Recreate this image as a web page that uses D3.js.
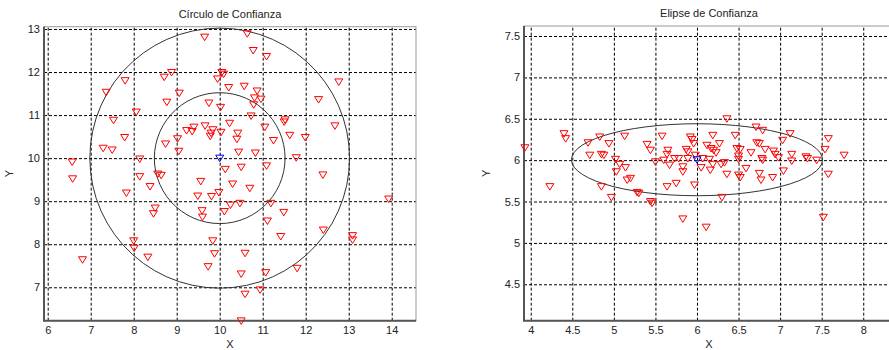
<!DOCTYPE html>
<html>
<head>
<meta charset="utf-8">
<script src="https://cdn.jsdelivr.net/npm/d3@7"></script>
<style>
  body { margin: 0; background: #fff; }
  text { font-family: "Liberation Sans", Arial, sans-serif; }
  .grid line { stroke: #000; stroke-dasharray: 3,2; stroke-width: 1; }
  .grid text { font-size: 11px; fill: #222; }
</style>
</head>
<body>
<div id="chart"></div>
<script>
// left panel: points around the circle centre
const circX = [9.65,10.64,10.78,11.09,8.88,8.71,7.80,7.36,9.06,10.05,10.09,9.95,10.21,10.57,10.87,10.81,10.96,10.79,9.75,10.02,
  8.77,8.06,7.53,10.73,10.23,11.52,11.50,11.05,12.30,12.77,12.68,11.63,11.99,11.25,10.83,10.44,10.40,10.42,10.03,9.84,
  9.80,9.78,9.66,9.40,9.36,9.23,9.02,8.74,9.05,7.79,7.29,7.50,8.14,6.57,11.78,
  6.58,8.14,8.56,8.64,8.38,7.83,9.56,10.13,10.50,11.09,12.40,10.30,10.70,9.49,9.81,9.98,10.25,10.47,10.11,9.59,
  9.60,8.50,8.46,11.19,11.49,11.11,13.93,12.41,13.09,13.09,11.42,8.00,8.01,9.84,9.88,10.59,8.33,6.81,9.73,10.50,
  11.07,11.80,10.94,10.59,10.50];
const circY = [12.81,12.89,12.50,12.36,11.99,11.88,11.80,11.53,11.51,11.99,11.95,11.84,11.64,11.67,11.56,11.40,11.37,11.24,11.28,11.18,
  11.30,11.07,10.88,10.98,10.81,10.89,10.84,10.72,11.36,11.77,10.75,10.53,10.48,10.41,10.12,10.14,10.44,10.58,10.60,10.66,
  10.58,10.51,10.75,10.72,10.62,10.64,10.45,10.33,10.16,10.48,10.23,10.19,9.98,9.91,10.01,
  9.52,9.57,9.63,9.60,9.34,9.19,9.46,9.74,9.79,9.82,9.61,9.40,9.30,9.12,9.11,9.20,8.91,8.95,8.76,8.78,
  8.63,8.84,8.71,8.95,8.74,8.54,9.05,8.33,8.20,8.10,8.18,8.08,7.91,8.08,7.78,7.79,7.70,7.64,7.48,7.31,
  7.34,7.44,6.94,6.84,6.22];
const circCenter = [10, 10];
const circRadii = [1.52, 3.02];

// right panel: points around the ellipse centre
const elipX = [4.40,4.42,3.93,4.23,4.69,4.83,4.94,4.71,4.85,4.88,5.13,5.02,5.07,5.14,5.03,5.20,5.16,4.85,4.97,5.28,
  5.30,5.44,5.46,5.40,5.44,5.58,5.50,5.60,5.65,5.64,5.67,5.73,5.78,5.83,5.83,5.64,5.75,5.83,5.97,5.92,
  5.94,5.96,5.87,5.89,5.98,5.89,
  6.36,6.71,6.79,7.12,7.58,7.54,7.77,6.19,6.46,7.03,6.72,6.75,6.82,6.27,6.12,6.17,6.20,6.23,6.48,6.52,
  6.65,6.50,6.50,6.78,6.79,6.92,6.94,6.98,7.14,7.14,7.31,7.33,7.44,
  6.07,6.15,6.33,6.29,6.05,6.16,6.19,6.36,6.50,6.52,6.59,6.75,6.77,6.91,7.04,7.58,
  6.30,7.52,6.11];
const elipY = [6.32,6.26,6.15,5.68,6.21,6.28,6.20,6.06,6.07,6.06,6.29,6.01,5.95,5.91,5.86,5.78,5.76,5.68,5.55,5.61,
  5.60,5.50,5.48,6.19,6.12,6.29,5.98,6.00,6.12,6.07,5.94,6.02,6.02,5.92,5.86,5.68,5.72,5.29,5.70,6.28,
  6.25,6.20,6.13,6.10,6.06,6.02,
  6.50,6.40,6.36,6.32,6.26,6.13,6.06,6.30,6.30,6.24,6.21,6.20,6.13,6.20,6.18,6.14,6.12,6.09,6.14,6.13,
  6.09,6.05,6.01,6.02,6.00,6.11,6.07,6.03,6.07,5.99,6.04,6.02,6.00,
  6.02,6.01,5.97,5.95,5.91,5.88,5.95,5.83,5.82,5.79,5.90,5.84,5.76,5.79,5.87,5.83,
  5.55,5.31,5.19];
const elipCenter = [6.0, 6.005];
const elipAxes = [1.51, 0.435];

// tick labels
const circXTicks = ['6','7','8','9','10','11','12','13','14'];
const circYTicks = ['7','8','9','10','11','12','13'];
const elipXTicks = ['4','4.5','5','5.5','6','6.5','7','7.5','8'];
const elipYTicks = ['4.5','5','5.5','6','6.5','7','7.5'];

const svg = d3.select('#chart').append('svg')
  .attr('width', 889)
  .attr('height', 350);

const tri = 'M-4,-3L4,-3L0,3.5Z';

function drawPanel(p) {
  const w = p.right - p.left, h = p.bottom - p.top;
  const x = d3.scaleLinear().domain(p.xDomain).range([0, w]);
  const y = d3.scaleLinear().domain(p.yDomain).range([h, 0]);

  const g = svg.append('g').attr('transform', `translate(${p.left},${p.top})`);

  g.append('clipPath').attr('id', p.id)
    .append('rect').attr('width', w).attr('height', h);

  // grid + tick labels
  g.append('g')
    .attr('class', 'grid')
    .attr('transform', `translate(0,${h})`)
    .call(d3.axisBottom(x).tickValues(p.xTicks.map(Number)).tickFormat((d, i) => p.xTicks[i])
      .tickSizeInner(-h).tickSizeOuter(0).tickPadding(6))
    .call(a => a.select('.domain').remove());

  g.append('g')
    .attr('class', 'grid')
    .call(d3.axisLeft(y).tickValues(p.yTicks.map(Number)).tickFormat((d, i) => p.yTicks[i])
      .tickSizeInner(-w).tickSizeOuter(0).tickPadding(4))
    .call(a => a.select('.domain').remove());

  // confidence shapes (clipped), markers are not clipped like matlab
  const line = d3.line().x(d => x(d[0])).y(d => y(d[1]));
  const shapes = g.append('g').attr('clip-path', `url(#${p.id})`);
  p.shapes.forEach(s => {
    const pts = d3.range(0, 361, 6).map(a => {
      const t = a * Math.PI / 180;
      return [s.cx + s.rx * Math.cos(t), s.cy + s.ry * Math.sin(t)];
    });
    shapes.append('path')
      .attr('d', line(pts))
      .attr('fill', 'none')
      .attr('stroke', '#333')
      .attr('stroke-width', 1);
  });

  // box
  g.append('rect')
    .attr('width', w).attr('height', h)
    .attr('fill', 'none').attr('stroke', '#999').attr('stroke-width', 1);
  g.append('path')
    .attr('d', `M0,0V${h}H${w}`)
    .attr('fill', 'none').attr('stroke', '#555').attr('stroke-width', 2);

  g.selectAll('.pt')
    .data(p.xs.map((v, i) => [v, p.ys[i]]))
    .enter().append('path')
    .attr('class', 'pt')
    .attr('d', tri)
    .attr('transform', d => `translate(${x(d[0])},${y(d[1])})`)
    .attr('fill', 'none')
    .attr('stroke', '#f00')
    .attr('stroke-width', 1);

  g.append('path')
    .attr('d', tri)
    .attr('transform', `translate(${x(p.center[0])},${y(p.center[1])})`)
    .attr('fill', 'none')
    .attr('stroke', '#00f')
    .attr('stroke-width', 1);

  g.append('text')
    .attr('x', w / 2).attr('y', -9)
    .attr('text-anchor', 'middle')
    .attr('font-size', 11).attr('fill', '#222')
    .text(p.title);

  g.append('text')
    .attr('x', w / 2).attr('y', h + 27)
    .attr('text-anchor', 'middle')
    .attr('font-size', 11).attr('fill', '#222')
    .text('X');

  g.append('text')
    .attr('transform', `translate(${p.yLabelX},${h / 2})rotate(-90)`)
    .attr('text-anchor', 'middle')
    .attr('font-size', 11).attr('fill', '#222')
    .text('Y');
}

drawPanel({
  id: 'clipA', left: 44, top: 26.7, right: 416, bottom: 320.7,
  xDomain: [5.914, 14.565], yDomain: [6.224, 13.053],
  xTicks: circXTicks, yTicks: circYTicks,
  title: 'Círculo de Confianza',
  xs: circX, ys: circY, center: circCenter,
  shapes: circRadii.map(r => ({cx: circCenter[0], cy: circCenter[1], rx: r, ry: r})),
  yLabelX: -31
});

drawPanel({
  id: 'clipB', left: 524, top: 26, right: 894, bottom: 320.7,
  xDomain: [3.919, 8.37], yDomain: [4.06, 7.621],
  xTicks: elipXTicks, yTicks: elipYTicks,
  title: 'Elipse de Confianza',
  xs: elipX, ys: elipY, center: elipCenter,
  shapes: [{cx: elipCenter[0], cy: elipCenter[1], rx: elipAxes[0], ry: elipAxes[1]}],
  yLabelX: -34
});
</script>
</body>
</html>
